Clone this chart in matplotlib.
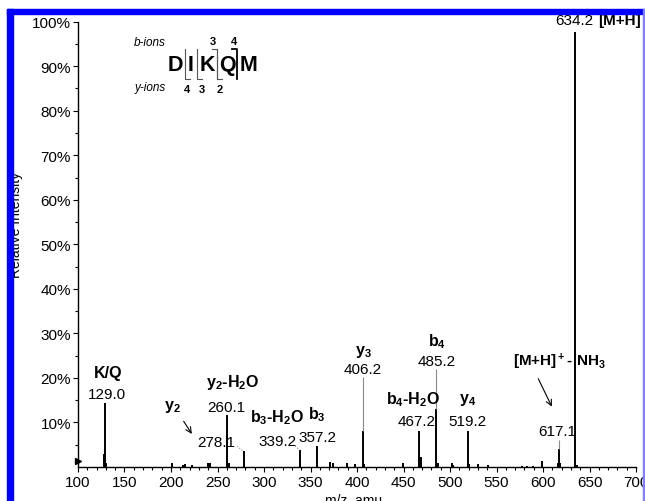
import matplotlib
matplotlib.use("Agg")
import matplotlib.pyplot as plt
from matplotlib.patches import Rectangle

plt.rcParams['font.family'] = ['Liberation Sans', 'DejaVu Sans']
plt.rcParams['mathtext.fontset'] = 'custom'
plt.rcParams['mathtext.rm'] = 'Liberation Sans'
plt.rcParams['mathtext.bf'] = 'Liberation Sans:bold'
plt.rcParams['mathtext.default'] = 'bf'

# peak list (m/z, relative intensity %)
mz = [128.1, 129.0, 130.1, 201.1, 213.0, 215.1, 222.9, 240.1, 242.1,
      260.1, 262.0, 278.1, 339.2, 357.2, 371.0, 374.2, 389.1, 398.0,
      406.2, 407.2, 449.6, 467.2, 469.1, 485.2, 487.1, 502.2, 503.2,
      519.2, 520.2, 529.9, 540.8, 577.0, 583.0, 589.1, 599.2, 616.0,
      617.1, 618.1, 634.2, 636.3]
intensity = [2.9, 14.4, 0.8, 0.8, 0.5, 0.6, 0.5, 0.9, 1.0,
             11.7, 1.0, 3.6, 3.9, 4.8, 1.1, 0.9, 0.9, 0.6,
             8.1, 0.7, 0.8, 8.1, 2.2, 13.0, 0.9, 0.9, 0.5,
             8.1, 0.7, 0.6, 0.4, 0.3, 0.3, 0.3, 1.3, 0.8,
             4.0, 1.0, 97.7, 0.5]

# annotated ions: (ion name, value text, label x, name y, value y)
ion_names = ["K/Q", "y$_2$-H$_2$O", "b$_3$-H$_2$O", "b$_3$", "y$_3$",
             "b$_4$-H$_2$O", "b$_4$", "y$_4$"]
ion_values = ["129.0", "260.1", "339.2", "357.2", "406.2", "467.2", "485.2", "519.2"]
name_x = [132, 266, 314, 357, 406.5, 460, 486, 519]
value_x = [131, 260, 314, 358, 406.5, 464.5, 486, 519]
name_y = [21.3, 19.1, 11.2, 11.9, 26.0, 15.3, 28.3, 15.3]
value_y = [16.4, 13.5, 5.8, 6.7, 22.0, 10.3, 23.8, 10.3]

# leader lines from labels down to peaks
leader_mz = [406.2, 485.2, 617.1]
leader_top = [20.2, 22.0, 6.1]
leader_bottom = [8.1, 13.0, 4.0]

fig = plt.figure(figsize=(6.45, 5.02), dpi=100)
ax = fig.add_axes([78 / 645, 34 / 502, 558 / 645, 445.3 / 502])

ax.vlines(mz, 0, intensity, color='black', lw=1.4)
ax.vlines(leader_mz, leader_bottom, leader_top, color='#8a8a8a', lw=0.8)

ax.set_xlim(100, 700)
ax.set_ylim(0, 100)
for s in ['top', 'right']:
    ax.spines[s].set_visible(False)
ax.spines['left'].set_linewidth(1.0)
ax.spines['bottom'].set_linewidth(1.0)

ax.set_xticks(range(100, 701, 50))
ax.set_xticks(range(100, 701, 10), minor=True)
ax.set_yticks(range(10, 101, 10))
ax.set_yticklabels([f"{v}%" for v in range(10, 101, 10)])
ax.set_yticks(range(5, 100, 10), minor=True)
ax.tick_params(axis='both', which='major', labelsize=11, length=3.5, width=0.8, direction='out')
ax.tick_params(axis='both', which='minor', length=2.5, width=0.8, direction='out')
ax.tick_params(axis='y', pad=1.5)
ax.tick_params(axis='x', pad=2)

ax.plot([100], [1.3], marker='>', color='black', markersize=5, clip_on=False)

for n, v, nx, vx, ny, vy in zip(ion_names, ion_values, name_x, value_x, name_y, value_y):
    ax.text(nx, ny, n, ha='center', va='center', fontsize=11.5, fontweight='bold')
    ax.text(vx, vy, v, ha='center', va='center', fontsize=11)

# y2 and 278.1
ax.text(202, 13.7, "y$_2$", ha='center', va='center', fontsize=11.5, fontweight='bold')
ax.annotate("", xy=(224, 6.9), xytext=(212, 10.8),
            arrowprops=dict(arrowstyle='->', color='black', lw=0.8))
ax.text(248.4, 5.6, "278.1", ha='center', va='center', fontsize=11)
ax.plot([271, 277.4], [4.7, 3.6], ls=':', color='#8a8a8a', lw=0.8)
ax.plot([333.3, 338.7], [4.7, 3.8], ls=':', color='#8a8a8a', lw=0.8)

# [M+H]+ - NH3
ax.text(618, 23.8, "[M+H]$^+$- NH$_3$", ha='center', va='center', fontsize=11, fontweight='bold')
ax.text(615, 8.1, "617.1", ha='center', va='center', fontsize=11)
ax.annotate("", xy=(610.8, 13.0), xytext=(593.6, 20.4),
            arrowprops=dict(arrowstyle='->', color='black', lw=0.8))

# precursor
ax.text(613, 100.4, "634.2", ha='left', va='center', fontsize=11, clip_on=False)
ax.text(659, 100.4, "[M+H]", ha='left', va='center', fontsize=11, fontweight='bold', clip_on=False)

# peptide sequence with fragment brackets
tr = ax.transAxes
ax.text(0.129, 0.954, "b-ions", transform=tr, ha='center', va='center', fontsize=8.5, style='italic')
ax.text(0.129, 0.853, "y-ions", transform=tr, ha='center', va='center', fontsize=8.5, style='italic')
for letter, lx in zip("DIKQM", [0.174, 0.2025, 0.231, 0.267, 0.305]):
    ax.text(lx, 0.905, letter, transform=tr, ha='center', va='center', fontsize=15.5, fontweight='bold')
for num, nx in zip(["3", "4"], [0.242, 0.280]):
    ax.text(nx, 0.957, num, transform=tr, ha='center', va='center', fontsize=8, fontweight='bold')
for num, nx in zip(["4", "3", "2"], [0.195, 0.222, 0.254]):
    ax.text(nx, 0.849, num, transform=tr, ha='center', va='center', fontsize=8, fontweight='bold')
for bx in [0.1918, 0.2133, 0.249]:
    ax.plot([bx, bx, bx + 0.009], [0.939, 0.871, 0.871], transform=tr, color='#555555', lw=0.8)
for bx in [0.249, 0.285]:
    ax.plot([bx - 0.009, bx, bx], [0.939, 0.939, 0.871], transform=tr,
            color='#555555' if bx < 0.28 else 'black', lw=0.8 if bx < 0.28 else 1.3)

fig.text(16.5 / 645, 1 - 225 / 502, "Relative Intensity", rotation=90, ha='center', va='center', fontsize=10)
fig.text(354 / 645, 8 / 502, "m/z, amu", ha='center', va='top', fontsize=10)

# blue frame of the cropped figure
fig.patches.append(Rectangle((7 / 645, 1 - 15 / 502), 1, 5 / 502, transform=fig.transFigure,
                             color='#0000ff', zorder=10))
fig.patches.append(Rectangle((7 / 645, 0), 6 / 645, 1 - 10 / 502, transform=fig.transFigure,
                             color='#0000ff', zorder=10))
fig.patches.append(Rectangle((642.5 / 645, 0), 1.5 / 645, 1 - 10 / 502, transform=fig.transFigure,
                             color='#7f7fff', zorder=10))

fig.savefig("out.png", dpi=100)
